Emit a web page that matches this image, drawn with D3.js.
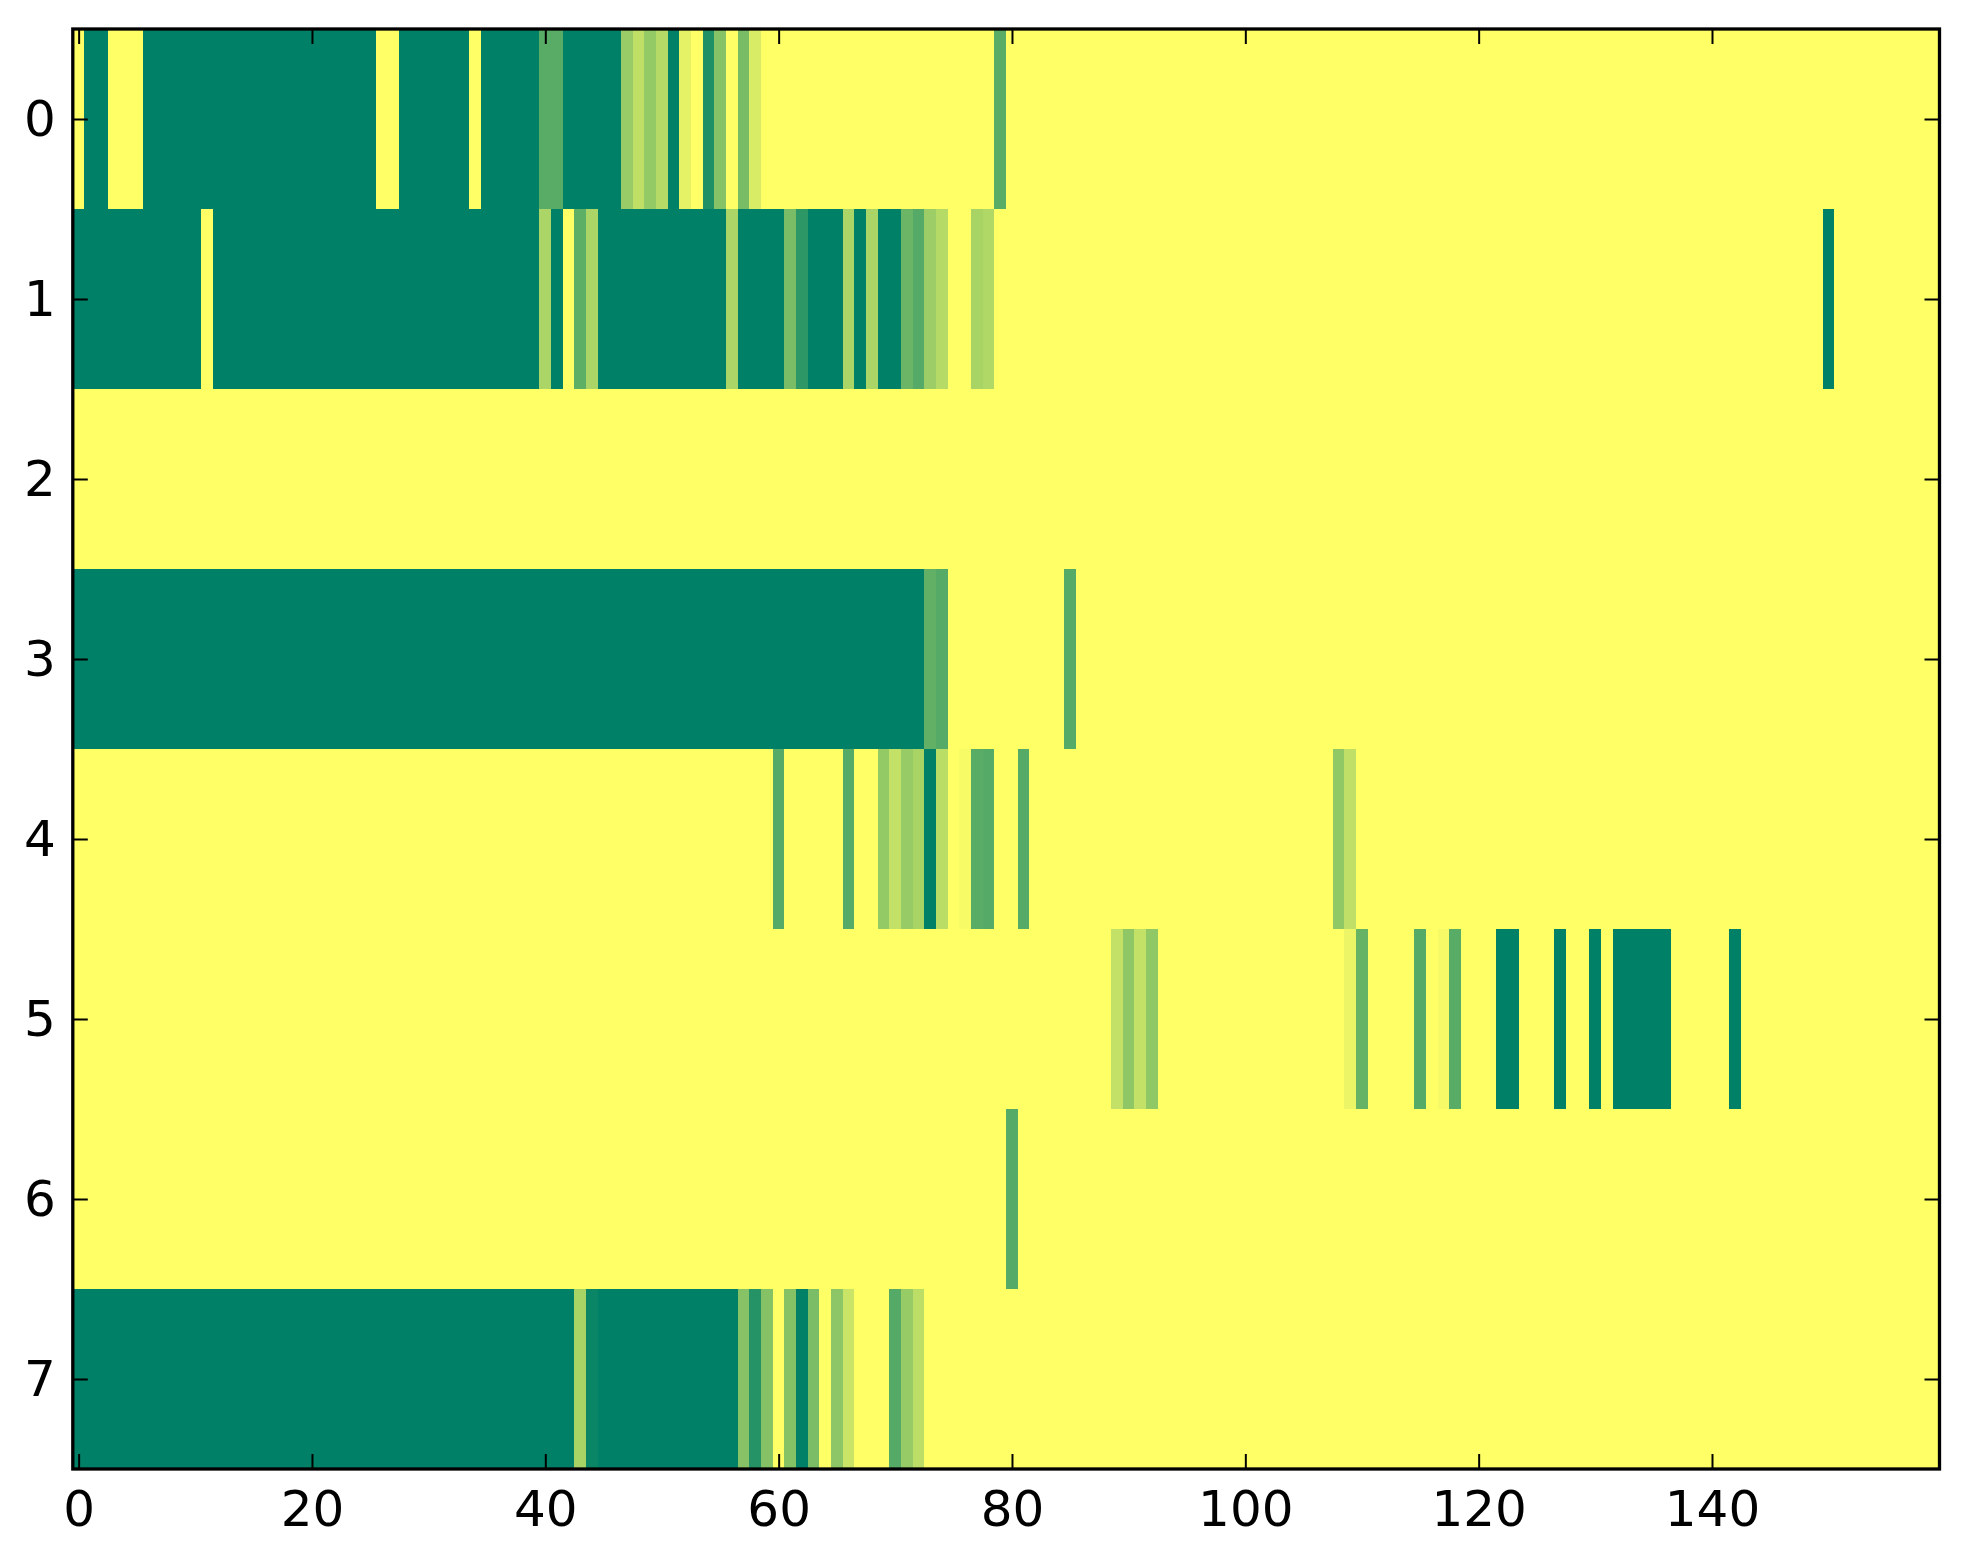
<!DOCTYPE html>
<html>
<head>
<meta charset="utf-8">
<script src="https://cdn.jsdelivr.net/npm/d3@7"></script>
<style>
  html, body { margin: 0; padding: 0; background: #ffffff; }
  svg { display: block; }
  .tick text { font-family: "DejaVu Sans", sans-serif; font-size: 50px; fill: #000; }
</style>
</head>
<body>
<svg id="chart" width="1963" height="1564"></svg>
<script>
// ---- data (values 0..1 per column, 160 columns per row) ----
const row0 = [
  0,1,1,0,0,0,1,1,1,1, 1,1,1,1,1,1,1,1,1,1,
  1,1,1,1,1,1,0,0,1,1, 1,1,1,1,0,1,1,1,1,1,
  .65,.65,1,1,1,1,1,.4,.25,.42, .29,1,.1,0,.88,.47,0,.53,.15,0,
  0,0,0,0,0,0,0,0,0,0, 0,0,0,0,0,0,0,0,0,.65,
  0,0,0,0,0,0,0,0,0,0, 0,0,0,0,0,0,0,0,0,0,
  0,0,0,0,0,0,0,0,0,0, 0,0,0,0,0,0,0,0,0,0,
  0,0,0,0,0,0,0,0,0,0, 0,0,0,0,0,0,0,0,0,0,
  0,0,0,0,0,0,0,0,0,0, 0,0,0,0,0,0,0,0,0,0
];
const row1 = [
  1,1,1,1,1,1,1,1,1,1, 1,0,1,1,1,1,1,1,1,1,
  1,1,1,1,1,1,1,1,1,1, 1,1,1,1,1,1,1,1,1,1,
  .33,1,0,.63,.33,1,1,1,1,1, 1,1,1,1,1,1,.33,1,1,1,
  1,.52,.82,1,1,1,.33,1,.33,1, 1,.58,.67,.39,.29,0,0,.34,.31,0,
  0,0,0,0,0,0,0,0,0,0, 0,0,0,0,0,0,0,0,0,0,
  0,0,0,0,0,0,0,0,0,0, 0,0,0,0,0,0,0,0,0,0,
  0,0,0,0,0,0,0,0,0,0, 0,0,0,0,0,0,0,0,0,0,
  0,0,0,0,0,0,0,0,0,0, 1,0,0,0,0,0,0,0,0,0
];
const row2 = [
  0,0,0,0,0,0,0,0,0,0, 0,0,0,0,0,0,0,0,0,0,
  0,0,0,0,0,0,0,0,0,0, 0,0,0,0,0,0,0,0,0,0,
  0,0,0,0,0,0,0,0,0,0, 0,0,0,0,0,0,0,0,0,0,
  0,0,0,0,0,0,0,0,0,0, 0,0,0,0,0,0,0,0,0,0,
  0,0,0,0,0,0,0,0,0,0, 0,0,0,0,0,0,0,0,0,0,
  0,0,0,0,0,0,0,0,0,0, 0,0,0,0,0,0,0,0,0,0,
  0,0,0,0,0,0,0,0,0,0, 0,0,0,0,0,0,0,0,0,0,
  0,0,0,0,0,0,0,0,0,0, 0,0,0,0,0,0,0,0,0,0
];
const row3 = [
  1,1,1,1,1,1,1,1,1,1, 1,1,1,1,1,1,1,1,1,1,
  1,1,1,1,1,1,1,1,1,1, 1,1,1,1,1,1,1,1,1,1,
  1,1,1,1,1,1,1,1,1,1, 1,1,1,1,1,1,1,1,1,1,
  1,1,1,1,1,1,1,1,1,1, 1,1,1,.62,.67,0,0,0,0,0,
  0,0,0,0,0,.67,0,0,0,0, 0,0,0,0,0,0,0,0,0,0,
  0,0,0,0,0,0,0,0,0,0, 0,0,0,0,0,0,0,0,0,0,
  0,0,0,0,0,0,0,0,0,0, 0,0,0,0,0,0,0,0,0,0,
  0,0,0,0,0,0,0,0,0,0, 0,0,0,0,0,0,0,0,0,0
];
const row4 = [
  0,0,0,0,0,0,0,0,0,0, 0,0,0,0,0,0,0,0,0,0,
  0,0,0,0,0,0,0,0,0,0, 0,0,0,0,0,0,0,0,0,0,
  0,0,0,0,0,0,0,0,0,0, 0,0,0,0,0,0,0,0,0,0,
  .67,0,0,0,0,0,.67,0,0,.42, .24,.41,.34,1,.27,0,.03,.65,.67,0,
  0,.67,0,0,0,0,0,0,0,0, 0,0,0,0,0,0,0,0,0,0,
  0,0,0,0,0,0,0,0,.43,.25, 0,0,0,0,0,0,0,0,0,0,
  0,0,0,0,0,0,0,0,0,0, 0,0,0,0,0,0,0,0,0,0,
  0,0,0,0,0,0,0,0,0,0, 0,0,0,0,0,0,0,0,0,0
];
const row5 = [
  0,0,0,0,0,0,0,0,0,0, 0,0,0,0,0,0,0,0,0,0,
  0,0,0,0,0,0,0,0,0,0, 0,0,0,0,0,0,0,0,0,0,
  0,0,0,0,0,0,0,0,0,0, 0,0,0,0,0,0,0,0,0,0,
  0,0,0,0,0,0,0,0,0,0, 0,0,0,0,0,0,0,0,0,0,
  0,0,0,0,0,0,0,0,0,.24, .44,.24,.43,0,0,0,0,0,0,0,
  0,0,0,0,0,0,0,0,0,.08, .6,0,0,0,0,.67,0,.04,.65,0,
  0,0,1,1,0,0,0,1,0,0, 1,0,1,1,1,1,1,0,0,0,
  0,0,1,0,0,0,0,0,0,0, 0,0,0,0,0,0,0,0,0,0
];
const row6 = [
  0,0,0,0,0,0,0,0,0,0, 0,0,0,0,0,0,0,0,0,0,
  0,0,0,0,0,0,0,0,0,0, 0,0,0,0,0,0,0,0,0,0,
  0,0,0,0,0,0,0,0,0,0, 0,0,0,0,0,0,0,0,0,0,
  0,0,0,0,0,0,0,0,0,0, 0,0,0,0,0,0,0,0,0,0,
  .67,0,0,0,0,0,0,0,0,0, 0,0,0,0,0,0,0,0,0,0,
  0,0,0,0,0,0,0,0,0,0, 0,0,0,0,0,0,0,0,0,0,
  0,0,0,0,0,0,0,0,0,0, 0,0,0,0,0,0,0,0,0,0,
  0,0,0,0,0,0,0,0,0,0, 0,0,0,0,0,0,0,0,0,0
];
const row7 = [
  1,1,1,1,1,1,1,1,1,1, 1,1,1,1,1,1,1,1,1,1,
  1,1,1,1,1,1,1,1,1,1, 1,1,1,1,1,1,1,1,1,1,
  1,1,1,.34,.96,1,1,1,1,1, 1,1,1,1,1,1,1,.47,.85,.48,
  0,.48,1,.52,0,.45,.21,0,0,0, .67,.41,.26,0,0,0,0,0,0,0,
  0,0,0,0,0,0,0,0,0,0, 0,0,0,0,0,0,0,0,0,0,
  0,0,0,0,0,0,0,0,0,0, 0,0,0,0,0,0,0,0,0,0,
  0,0,0,0,0,0,0,0,0,0, 0,0,0,0,0,0,0,0,0,0,
  0,0,0,0,0,0,0,0,0,0, 0,0,0,0,0,0,0,0,0,0
];
const rows = [row0, row1, row2, row3, row4, row5, row6, row7];
const xTickValues = [0, 20, 40, 60, 80, 100, 120, 140];
const yTickValues = [0, 1, 2, 3, 4, 5, 6, 7];

// ---- layout ----
const L = 72.8, R = 1939.5, T = 29, B = 1469;
const nCols = row0.length, nRows = rows.length;

const svg = d3.select("#chart");
svg.append("rect").attr("width", 1963).attr("height", 1564).attr("fill", "#ffffff");

const x = d3.scaleLinear().domain([-0.5, nCols - 0.5]).range([L, R]);
const y = d3.scaleLinear().domain([-0.5, nRows - 0.5]).range([T, B]);

// summer_r colormap: v=0 -> yellow (1,1,0.4), v=1 -> green (0,0.5,0.4)
const color = d3.scaleLinear().domain([0, 1])
  .range(["rgb(255,255,102)", "rgb(0,128,102)"]).interpolate(d3.interpolateRgb);

const cells = [];
rows.forEach((r, ri) => r.forEach((v, ci) => cells.push({ r: ri, c: ci, v: v })));

svg.append("g").attr("shape-rendering", "crispEdges")
  .selectAll("rect").data(cells).join("rect")
  .attr("x", d => x(d.c - 0.5))
  .attr("y", d => y(d.r - 0.5))
  .attr("width", d => x(d.c + 0.5) - x(d.c - 0.5) + 0.6)
  .attr("height", d => y(d.r + 0.5) - y(d.r - 0.5) + 0.6)
  .attr("fill", d => color(d.v));

// ---- axes ----
const tickLen = 15;
function styleAxis(g) {
  g.select(".domain").remove();
  g.selectAll(".tick line").attr("stroke", "#000").attr("stroke-width", 2);
}
svg.append("g").attr("transform", `translate(0,${B})`)
  .call(d3.axisBottom(x).tickValues(xTickValues).tickSizeInner(-tickLen).tickSizeOuter(0).tickPadding(21))
  .call(styleAxis)
  .selectAll("text").attr("dy", "0.71em");
svg.append("g").attr("transform", `translate(0,${T})`)
  .call(d3.axisTop(x).tickValues(xTickValues).tickSizeInner(-tickLen).tickSizeOuter(0).tickFormat(""))
  .call(styleAxis);
svg.append("g").attr("transform", `translate(${L},0)`)
  .call(d3.axisLeft(y).tickValues(yTickValues).tickSizeInner(-tickLen).tickSizeOuter(0).tickPadding(17))
  .call(styleAxis);
svg.append("g").attr("transform", `translate(${R},0)`)
  .call(d3.axisRight(y).tickValues(yTickValues).tickSizeInner(-tickLen).tickSizeOuter(0).tickFormat(""))
  .call(styleAxis);

// frame (spines)
svg.append("rect")
  .attr("x", L).attr("y", T).attr("width", R - L).attr("height", B - T)
  .attr("fill", "none").attr("stroke", "#000").attr("stroke-width", 3.3);
</script>
</body>
</html>
